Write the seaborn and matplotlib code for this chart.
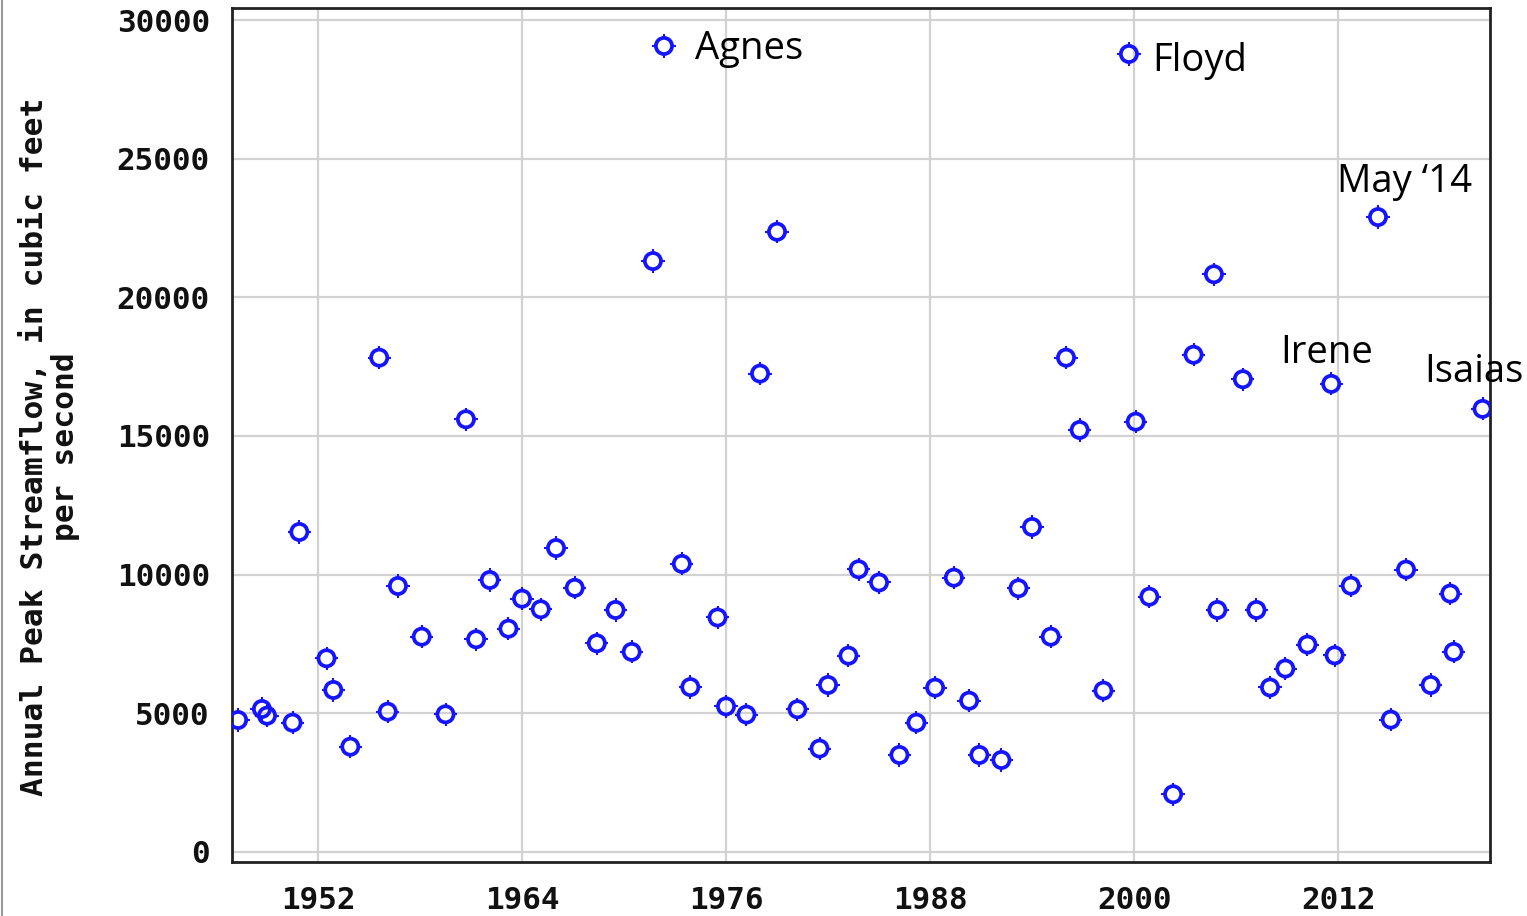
import matplotlib
matplotlib.use("Agg")
import matplotlib.pyplot as plt
from matplotlib.path import Path
from matplotlib.lines import Line2D
import seaborn as sns
import pandas as pd

# ---- data (decimal year of annual peak, peak streamflow in cfs) ----
years = [1947.3, 1948.7, 1949.0, 1950.5, 1950.9, 1952.5, 1952.9, 1953.9, 1955.6, 1956.1,
         1956.7, 1958.1, 1959.5, 1960.7, 1961.3, 1962.1, 1963.2, 1964.0, 1965.1, 1966.0,
         1967.1, 1968.4, 1969.5, 1970.45, 1971.7, 1972.35, 1973.4, 1973.9, 1975.5, 1976.0,
         1977.2, 1978.0, 1979.0, 1980.2, 1981.5, 1982.0, 1983.2, 1983.8, 1985.0, 1986.2,
         1987.2, 1988.3, 1989.4, 1990.3, 1990.9, 1992.2, 1993.2, 1994.0, 1995.1, 1996.0,
         1996.8, 1998.2, 1999.7, 2000.1, 2000.9, 2002.3, 2003.5, 2004.7, 2004.9, 2006.4,
         2007.2, 2008.0, 2008.9, 2010.2, 2011.6, 2011.8, 2012.75, 2014.35, 2015.1, 2016.0,
         2017.45, 2018.6, 2018.8, 2020.5]
peaks = [4760, 5157, 4915, 4663, 11539, 6985, 5842, 3797, 17825, 5059,
         9592, 7764, 4965, 15603, 7670, 9808, 8052, 9134, 8752, 10960,
         9524, 7526, 8727, 7216, 21308, 29064, 10389, 5946, 8456, 5250,
         4955, 17251, 22365, 5146, 3729, 6022, 7079, 10194, 9718, 3498,
         4663, 5926, 9892, 5456, 3498, 3318, 9508, 11720, 7764, 17825,
         15217, 5818, 28776, 15517, 9206, 2081, 17930, 20832, 8727, 17046,
         8727, 5932, 6614, 7479, 16880, 7090, 9603, 22894, 4774, 10183,
         6022, 9318, 7216, 15978]

x_ticks = [1952, 1964, 1976, 1988, 2000, 2012]
y_ticks = [0, 5000, 10000, 15000, 20000, 25000, 30000]

event_labels = ["Agnes", "Floyd", "May \u201814", "Irene", "Isaias"]
event_x = [1974.2, 2001.1, 2011.95, 2008.6, 2017.1]
event_y = [28600, 28150, 23800, 17630, 16950]

ylabel_text = "Annual Peak Streamflow, in cubic feet\nper second"

df = pd.DataFrame({"year": years, "peak": peaks})

# ---- figure ----
sns.set_theme(style="white")
plt.rcParams["font.family"] = ["DejaVu Sans Mono", "DejaVu Sans"]

fig = plt.figure(figsize=(15.27, 9.16), dpi=100)
ax = fig.add_axes([232 / 1527, 1 - 862 / 916, (1490 - 232) / 1527, (862 - 8) / 916])

blue = "#1414ff"

# small tick "spikes" around each marker
tick_path = Path(
    [(0, 0.7), (0, 1), (0, -0.7), (0, -1), (0.7, 0), (1, 0), (-0.7, 0), (-1, 0)],
    [Path.MOVETO, Path.LINETO] * 4,
)
sns.scatterplot(data=df, x="year", y="peak", ax=ax, marker=tick_path, s=280,
                facecolors="none", edgecolors=blue, linewidths=1.5, zorder=3, legend=False)
sns.scatterplot(data=df, x="year", y="peak", ax=ax, marker="o", s=135,
                facecolors="none", edgecolors=blue, linewidths=2.7, zorder=4, legend=False)

ax.set_xlim(1946.94, 2020.94)
ax.set_ylim(-361, 30433)
ax.set_xticks(x_ticks)
ax.set_yticks(y_ticks)
ax.set_xticklabels([str(t) for t in x_ticks])
ax.set_yticklabels([str(t) for t in y_ticks])

ax.grid(True, color="#d2d2d2", linewidth=1.6)
ax.set_axisbelow(True)
for sp in ax.spines.values():
    sp.set_color("#222222")
    sp.set_linewidth(2.0)
    sp.set_visible(True)

ax.tick_params(axis="both", length=0, labelsize=22.3, colors="#111111")
ax.tick_params(axis="x", pad=17)
ax.tick_params(axis="y", pad=16)
for lab in ax.get_xticklabels() + ax.get_yticklabels():
    lab.set_fontweight("bold")

ax.set_xlabel("")
ax.set_ylabel(ylabel_text, fontsize=22.5, fontweight="bold", color="#111111",
              linespacing=1.1)
ax.yaxis.set_label_coords((80 - 232) / 1258, (862 - 447) / 854)

for lab, ex, ey in zip(event_labels, event_x, event_y):
    ax.text(ex, ey, lab, fontsize=27.5, family=["Open Sans", "DejaVu Sans"],
            color="black", ha="left", va="baseline", zorder=5)

fig.add_artist(Line2D([0.0012, 0.0012], [0, 1], transform=fig.transFigure,
                      color="#9a9a9a", linewidth=1.5))

fig.savefig("out.png", dpi=100, facecolor="white")
